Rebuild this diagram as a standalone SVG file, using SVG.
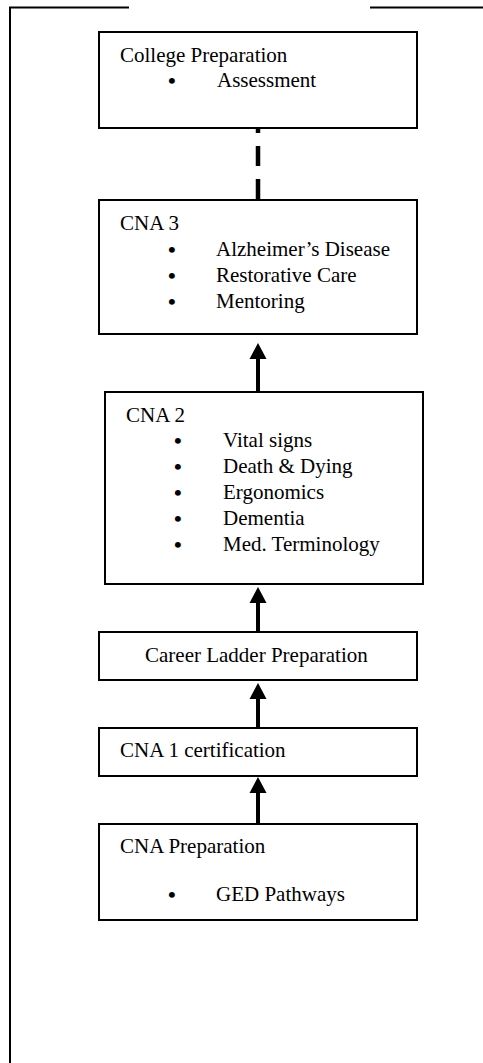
<svg xmlns="http://www.w3.org/2000/svg" width="483" height="1063" viewBox="0 0 483 1063">
  <style>
    .box { fill: #ffffff; stroke: #000000; stroke-width: 2; }
    .frame { fill: none; stroke: #000000; stroke-width: 2; }
    .t { font-family: "Liberation Serif", "Times New Roman", serif; font-size: 21px; fill: #000000; }
    .b { font-family: "Liberation Serif", "Times New Roman", serif; font-size: 22px; font-weight: bold; fill: #000000; }
    .conn { stroke: #000000; stroke-width: 4; fill: none; }
    .dash { stroke: #000000; stroke-width: 4.5; fill: none; stroke-dasharray: 20 13; }
  </style>
  <defs>
    <marker id="ah" markerUnits="userSpaceOnUse" markerWidth="17" markerHeight="18" refX="0" refY="8.5" orient="auto" viewBox="0 0 17 17">
      <path d="M0,0 L16,8.5 L0,17 z" fill="#000000"/>
    </marker>
  </defs>
  <rect width="483" height="1063" fill="#ffffff"/>

  <g id="frame">
    <path class="frame" d="M10,1063 L10,7.5 L129,7.5"/>
    <path class="frame" d="M370,7.5 L483,7.5"/>
  </g>

  <g id="connectors">
    <line class="dash" x1="258" y1="199" x2="258" y2="128"/>
    <line class="conn" x1="258" y1="392" x2="258" y2="359" marker-end="url(#ah)"/>
    <line class="conn" x1="258" y1="632" x2="258" y2="603" marker-end="url(#ah)"/>
    <line class="conn" x1="258" y1="728" x2="258" y2="699" marker-end="url(#ah)"/>
    <line class="conn" x1="258" y1="824" x2="258" y2="793" marker-end="url(#ah)"/>
  </g>

  <g id="college-preparation">
    <rect class="box" x="99" y="32" width="318" height="96"/>
    <text class="t" x="120" y="62">College Preparation</text>
    <text class="b" x="168" y="88">•</text>
    <text class="t" x="217" y="87">Assessment</text>
  </g>

  <g id="cna3">
    <rect class="box" x="99" y="200" width="318" height="134"/>
    <text class="t" x="120" y="230">CNA 3</text>
    <text class="b" x="168" y="257">•</text>
    <text class="t" x="216" y="256">Alzheimer’s Disease</text>
    <text class="b" x="168" y="283">•</text>
    <text class="t" x="216" y="282">Restorative Care</text>
    <text class="b" x="168" y="309">•</text>
    <text class="t" x="216" y="308">Mentoring</text>
  </g>

  <g id="cna2">
    <rect class="box" x="105" y="392" width="318" height="192"/>
    <text class="t" x="126" y="422">CNA 2</text>
    <text class="b" x="174" y="448">•</text>
    <text class="t" x="223" y="447">Vital signs</text>
    <text class="b" x="174" y="474">•</text>
    <text class="t" x="223" y="473">Death &amp; Dying</text>
    <text class="b" x="174" y="500">•</text>
    <text class="t" x="223" y="499">Ergonomics</text>
    <text class="b" x="174" y="526">•</text>
    <text class="t" x="223" y="525">Dementia</text>
    <text class="b" x="174" y="552">•</text>
    <text class="t" x="223" y="551">Med. Terminology</text>
  </g>

  <g id="career-ladder">
    <rect class="box" x="99" y="632" width="318" height="48"/>
    <text class="t" x="145" y="662">Career Ladder Preparation</text>
  </g>

  <g id="cna1">
    <rect class="box" x="99" y="728" width="318" height="48"/>
    <text class="t" x="120" y="757">CNA 1 certification</text>
  </g>

  <g id="cna-preparation">
    <rect class="box" x="99" y="824" width="318" height="96"/>
    <text class="t" x="120" y="853">CNA Preparation</text>
    <text class="b" x="168" y="902">•</text>
    <text class="t" x="216" y="901">GED Pathways</text>
  </g>
</svg>
